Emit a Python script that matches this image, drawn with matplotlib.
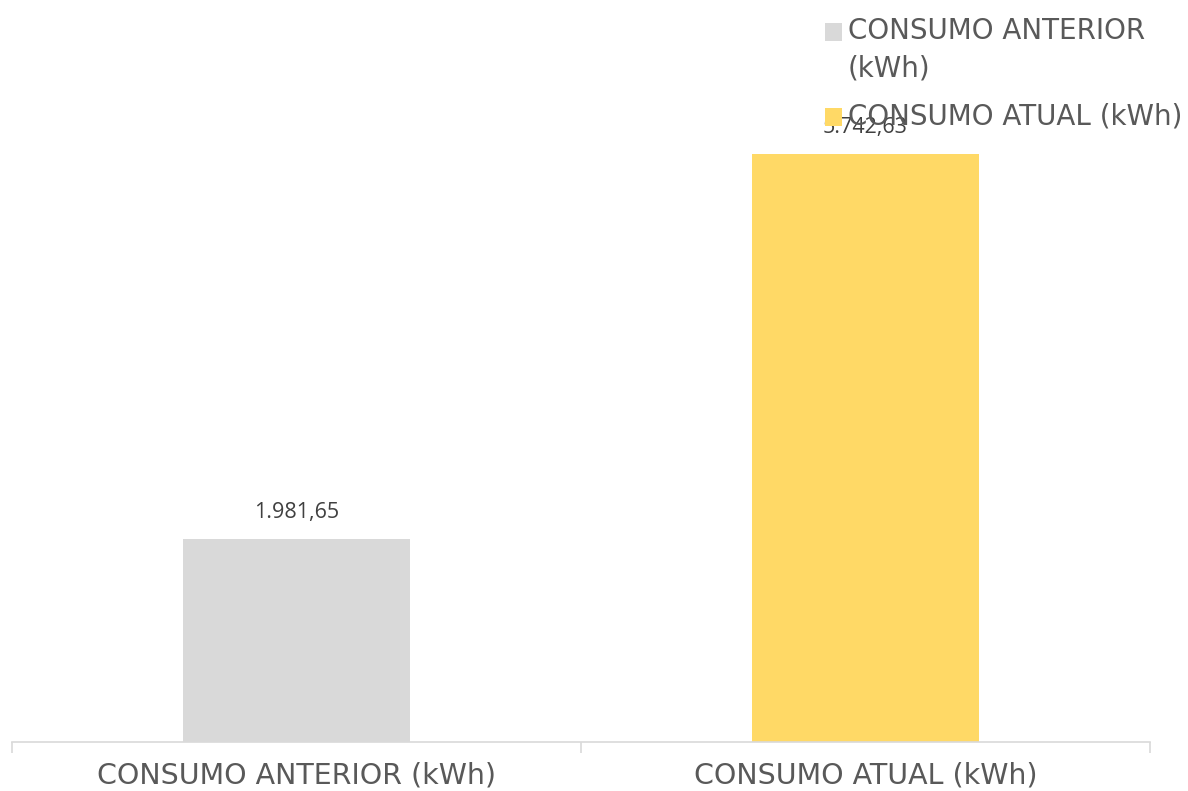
import matplotlib
matplotlib.use("Agg")
import matplotlib.pyplot as plt
from matplotlib.patches import Patch
from matplotlib.ticker import FixedLocator

categories = ["CONSUMO ANTERIOR (kWh)", "CONSUMO ATUAL (kWh)"]
values = [1981.65, 5742.63]
value_labels = ["1.981,65", "5.742,63"]
legend_labels = ["CONSUMO ANTERIOR\n(kWh)", "CONSUMO ATUAL (kWh)"]
colors = ["#d9d9d9", "#ffd966"]

W, H = 1188, 791
fig = plt.figure(figsize=(W / 100, H / 100), dpi=100)
ymax = 6000
top_px = 742 - 588 / 5742.63 * ymax
ax = fig.add_axes([12 / W, 49 / H, (1150 - 12) / W, (742 - top_px) / H])

x = list(range(len(categories)))
bars = ax.bar(x, values, width=0.4, color=colors, zorder=2)
ax.set_xlim(-0.5, len(categories) - 0.5)
ax.set_ylim(0, ymax)

for xi, v, lab in zip(x, values, value_labels):
    ax.annotate(lab, (xi, v), xytext=(0, 27), textcoords="offset pixels",
                ha="center", va="center", fontsize=15.5, color="#404040",
                family=["Open Sans", "DejaVu Sans"], annotation_clip=False)

for s in ["top", "right", "left"]:
    ax.spines[s].set_visible(False)
ax.spines["bottom"].set_color("#d9d9d9")
ax.spines["bottom"].set_linewidth(1.2)
ax.set_yticks([])
ax.set_xticks(x)
ax.set_xticklabels(categories, fontsize=20.5, color="#595959", family=["DejaVu Sans"])
ax.tick_params(axis="x", which="major", length=0, pad=14)
ax.xaxis.set_minor_locator(FixedLocator([-0.5, 0.5, 1.5]))
ax.tick_params(axis="x", which="minor", length=8, color="#d9d9d9", width=1.2)

ls = 1.41
handles = [Patch(facecolor=c, edgecolor="none") for c in colors]
leg = fig.legend(handles, legend_labels, loc="upper left",
                 bbox_to_anchor=(825 / W, 1 - 17 / H), frameon=False,
                 prop={"family": ["DejaVu Sans"], "size": 20},
                 labelcolor="#595959", handlelength=0.61, handleheight=0.61,
                 handletextpad=0.21, labelspacing=0.73, borderaxespad=0,
                 borderpad=0)
for t in leg.get_texts():
    t.set_linespacing(ls)
# align the first handle with the first line of its two-line label
h0 = leg.legend_handles[0]
h0.set_y(h0.get_y() + 0.5 * ls * 20 * 1.17 - 3.0)
h1 = leg.legend_handles[1]
h1.set_y(h1.get_y() - 1.5)

fig.savefig("out.png", dpi=100)
